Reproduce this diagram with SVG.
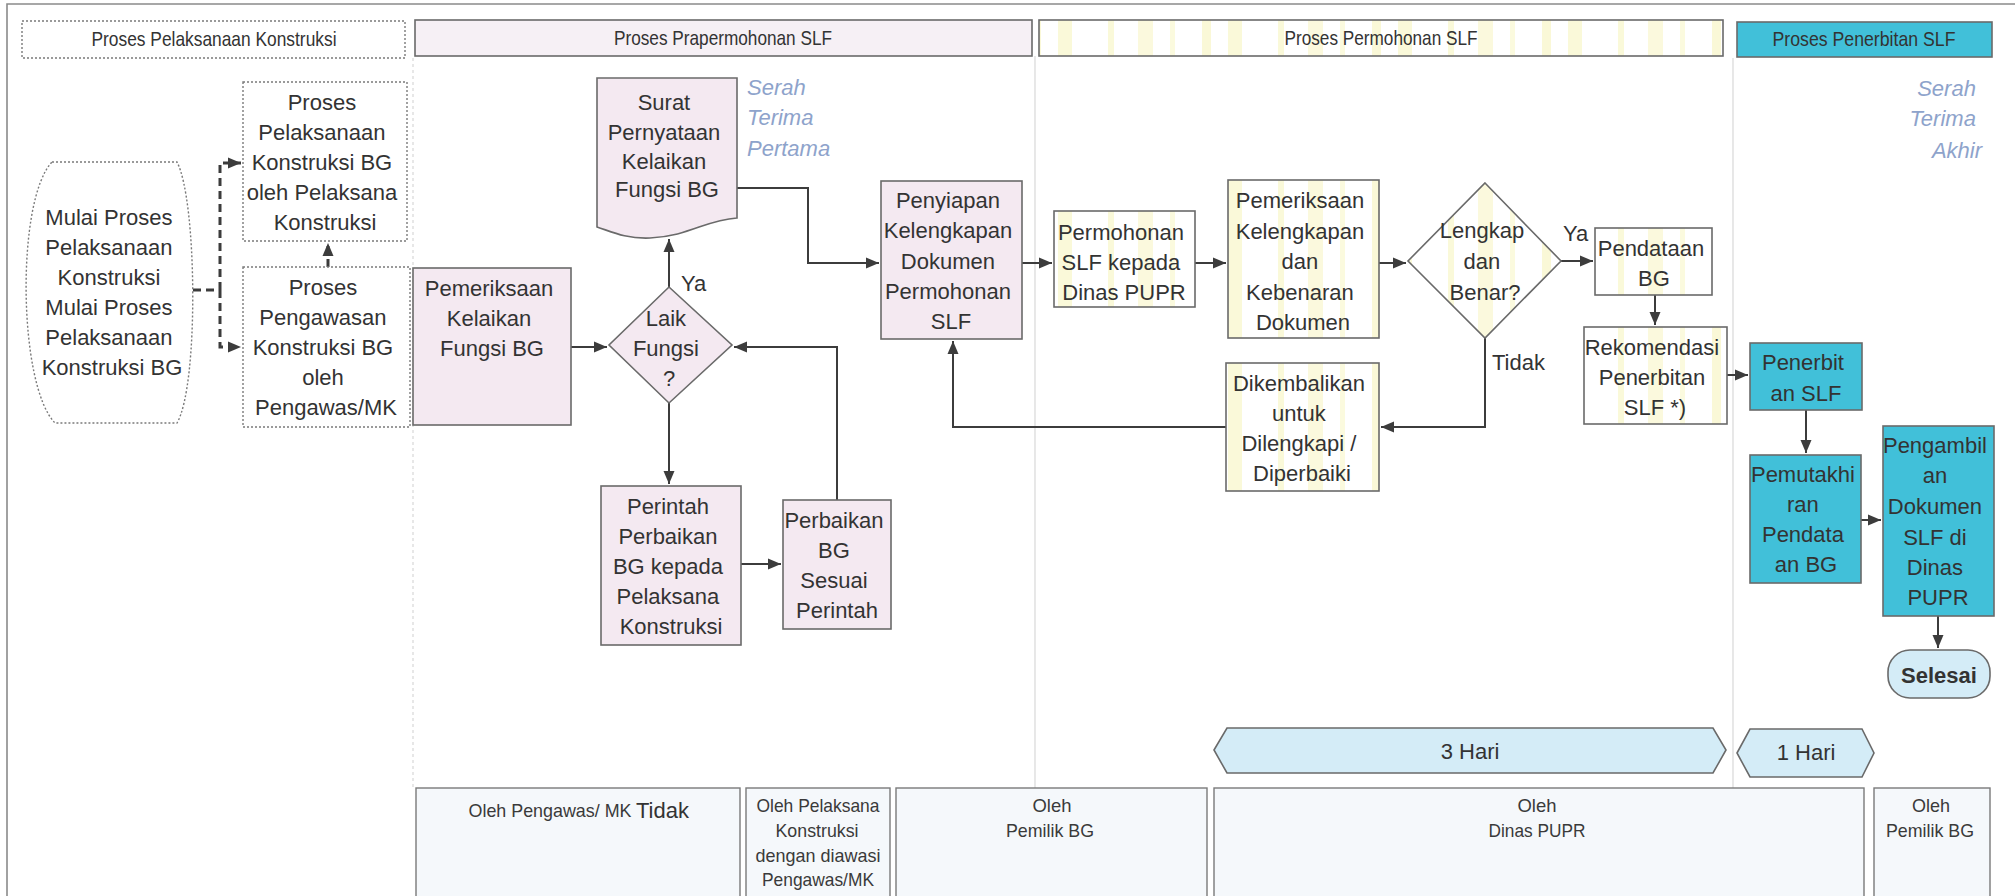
<svg xmlns="http://www.w3.org/2000/svg" width="2015" height="896" viewBox="0 0 2015 896">
  <defs>
    <!-- faint vertical yellow banding used for the application-lane shapes -->
    <pattern id="stripes" patternUnits="userSpaceOnUse" x="0" y="0" width="170" height="20">
      <rect x="0" y="0" width="170" height="20" fill="#ffffff"/>
      <rect x="12" y="0" width="9" height="20" fill="#f4f1a6" opacity="0.45"/>
      <rect x="38" y="0" width="14" height="20" fill="#f6f3b4" opacity="0.5"/>
      <rect x="88" y="0" width="6" height="20" fill="#f3efa0" opacity="0.4"/>
      <rect x="118" y="0" width="15" height="20" fill="#f6f3b4" opacity="0.45"/>
      <rect x="150" y="0" width="5" height="20" fill="#f3efa0" opacity="0.35"/>
    </pattern>
    <marker id="arr" markerUnits="userSpaceOnUse" markerWidth="14" markerHeight="14" viewBox="0 0 14 14" refX="13" refY="7" orient="auto">
      <path d="M0,1.5 L13,7 L0,12.5 Z" fill="#3c3c3c"/>
    </marker>
  </defs>
  <style>
    .t { font-family: "Liberation Sans", Arial, sans-serif; font-size: 22px; fill: #333333; text-anchor: middle; }
    .hd { font-family: "Liberation Sans", Arial, sans-serif; font-size: 21px; fill: #333; text-anchor: middle; }
    .sm { font-family: "Liberation Sans", Arial, sans-serif; font-size: 19px; fill: #3a3a3a; text-anchor: middle; }
    .note { font-family: "Liberation Sans", Arial, sans-serif; font-size: 22px; font-style: italic; fill: #8ea3cb; }
    .lbl { font-family: "Liberation Sans", Arial, sans-serif; font-size: 22px; fill: #333333; }
    .box { stroke: #6a6a6a; stroke-width: 1.6; }
    .dot { fill: #ffffff; stroke: #7a7a7a; stroke-width: 1.4; stroke-dasharray: 2 2; }
    .pink { fill: #f4e9f1; }
    .yel { fill: url(#stripes); }
    .cyan { fill: #41c0d9; }
    .lb { fill: #d4ecf7; }
    .foot { fill: #f5f8fb; stroke: #7a7a7a; stroke-width: 1.4; }
    .lane { stroke: #d8d8d8; stroke-width: 1.2; fill: none; }
    .c { fill: none; stroke: #3c3c3c; stroke-width: 2; }
    .cd { fill: none; stroke: #3c3c3c; stroke-width: 3; stroke-dasharray: 8 5; }
  </style>

  <rect x="0" y="0" width="2015" height="896" fill="#ffffff"/>
  <!-- outer frame -->
  <path d="M7,900 V4 H2015" fill="none" stroke="#8a8a8a" stroke-width="1.6"/>

  <!-- lane dividers -->
  <g id="lanes">
    <line class="lane" x1="413" y1="58" x2="413" y2="788" stroke-dasharray="3 3"/>
    <line class="lane" x1="1035" y1="56" x2="1035" y2="788"/>
    <line class="lane" x1="1733" y1="58" x2="1733" y2="788"/>
  </g>

  <!-- lane headers -->
  <g id="header-pelaksanaan">
    <rect class="dot" x="22" y="21" width="383" height="37"/>
    <text class="hd" x="214" y="46" textLength="245" lengthAdjust="spacingAndGlyphs">Proses Pelaksanaan Konstruksi</text>
  </g>
  <g id="header-prapermohonan">
    <rect class="box" x="415" y="20" width="617" height="36" fill="#f6f0f5"/>
    <text class="hd" x="723" y="45" textLength="218" lengthAdjust="spacingAndGlyphs">Proses Prapermohonan SLF</text>
  </g>
  <g id="header-permohonan">
    <rect class="box yel" x="1039" y="20" width="684" height="36"/>
    <text class="hd" x="1381" y="45" textLength="193" lengthAdjust="spacingAndGlyphs">Proses Permohonan SLF</text>
  </g>
  <g id="header-penerbitan">
    <rect class="box cyan" x="1737" y="22" width="255" height="35"/>
    <text class="hd" x="1864" y="46" textLength="183" lengthAdjust="spacingAndGlyphs">Proses Penerbitan SLF</text>
  </g>

  <!-- connectors -->
  <g id="connectors">
    <path class="cd" d="M193,290 H220"/>
    <path class="cd" d="M220,290 V163 H241" marker-end="url(#arr)"/>
    <path class="cd" d="M220,290 V347 H241" marker-end="url(#arr)"/>
    <path class="cd" d="M328,267 V243" marker-end="url(#arr)"/>
    <path class="c" d="M571,347 H607" marker-end="url(#arr)"/>
    <path class="c" d="M669,287 V239" marker-end="url(#arr)"/>
    <path class="c" d="M737,188 H808 V263 H879" marker-end="url(#arr)"/>
    <path class="c" d="M1022,263 H1052" marker-end="url(#arr)"/>
    <path class="c" d="M1195,263 H1226" marker-end="url(#arr)"/>
    <path class="c" d="M1379,263 H1406" marker-end="url(#arr)"/>
    <path class="c" d="M1561,261 H1593" marker-end="url(#arr)"/>
    <path class="c" d="M1655,295 V325" marker-end="url(#arr)"/>
    <path class="c" d="M1485,338 V427 H1381" marker-end="url(#arr)"/>
    <path class="c" d="M1226,427 H953 V341" marker-end="url(#arr)"/>
    <path class="c" d="M669,403 V484" marker-end="url(#arr)"/>
    <path class="c" d="M741,564 H781" marker-end="url(#arr)"/>
    <path class="c" d="M837,500 V347 H734" marker-end="url(#arr)"/>
    <path class="c" d="M1727,375 H1748" marker-end="url(#arr)"/>
    <path class="c" d="M1806,410 V453" marker-end="url(#arr)"/>
    <path class="c" d="M1861,520 H1881" marker-end="url(#arr)"/>
    <path class="c" d="M1938,616 V648" marker-end="url(#arr)"/>
    <text class="lbl" x="681" y="291">Ya</text>
    <text class="lbl" x="1563" y="241">Ya</text>
    <text class="lbl" x="1492" y="370">Tidak</text>
  </g>

  <!-- lane 1: construction -->
  <g id="mulai">
    <path class="dot" d="M52,162 H177 C197,200 199,385 177,423 H55 C18,385 16,200 52,162 Z"/>
    <text class="t">
      <tspan x="112" y="225">Mulai Proses</tspan>
      <tspan x="112" y="255">Pelaksanaan</tspan>
      <tspan x="112" y="285">Konstruksi</tspan>
      <tspan x="112" y="315">Mulai Proses</tspan>
      <tspan x="112" y="345">Pelaksanaan</tspan>
      <tspan x="112" y="375">Konstruksi BG</tspan>
    </text>
  </g>
  <g id="proses-pelaksanaan">
    <rect class="dot" x="243" y="82" width="164" height="159"/>
    <text class="t">
      <tspan x="325" y="110">Proses</tspan>
      <tspan x="325" y="140">Pelaksanaan</tspan>
      <tspan x="325" y="170">Konstruksi BG</tspan>
      <tspan x="325" y="200">oleh Pelaksana</tspan>
      <tspan x="325" y="230">Konstruksi</tspan>
    </text>
  </g>
  <g id="proses-pengawasan">
    <rect class="dot" x="243" y="267" width="167" height="160"/>
    <text class="t">
      <tspan x="326" y="295">Proses</tspan>
      <tspan x="326" y="325">Pengawasan</tspan>
      <tspan x="326" y="355">Konstruksi BG</tspan>
      <tspan x="326" y="385">oleh</tspan>
      <tspan x="326" y="415">Pengawas/MK</tspan>
    </text>
  </g>

  <!-- lane 2: pre-application -->
  <g id="pemeriksaan-kelaikan">
    <rect class="box pink" x="413" y="268" width="158" height="157"/>
    <text class="t">
      <tspan x="492" y="296">Pemeriksaan</tspan>
      <tspan x="492" y="326">Kelaikan</tspan>
      <tspan x="492" y="356">Fungsi BG</tspan>
    </text>
  </g>
  <g id="laik-fungsi">
    <path class="box pink" d="M669,287 L732,345 L669,403 L609,345 Z"/>
    <text class="t">
      <tspan x="669" y="326">Laik</tspan>
      <tspan x="669" y="356">Fungsi</tspan>
      <tspan x="669" y="386">?</tspan>
    </text>
  </g>
  <g id="surat-pernyataan">
    <path class="box pink" d="M597,78 H737 V218 C705,220 690,236 650,238 C625,239 610,231 597,227 Z"/>
    <text class="t">
      <tspan x="667" y="110">Surat</tspan>
      <tspan x="667" y="140">Pernyataan</tspan>
      <tspan x="667" y="169">Kelaikan</tspan>
      <tspan x="667" y="197">Fungsi BG</tspan>
    </text>
    <text class="note">
      <tspan x="747" y="95">Serah</tspan>
      <tspan x="747" y="125">Terima</tspan>
      <tspan x="747" y="156">Pertama</tspan>
    </text>
  </g>
  <g id="perintah-perbaikan">
    <rect class="box pink" x="601" y="486" width="140" height="159"/>
    <text class="t">
      <tspan x="671" y="514">Perintah</tspan>
      <tspan x="671" y="544">Perbaikan</tspan>
      <tspan x="671" y="574">BG kepada</tspan>
      <tspan x="671" y="604">Pelaksana</tspan>
      <tspan x="671" y="634">Konstruksi</tspan>
    </text>
  </g>
  <g id="perbaikan-bg">
    <rect class="box pink" x="783" y="500" width="108" height="129"/>
    <text class="t">
      <tspan x="837" y="528">Perbaikan</tspan>
      <tspan x="837" y="558">BG</tspan>
      <tspan x="837" y="588">Sesuai</tspan>
      <tspan x="837" y="618">Perintah</tspan>
    </text>
  </g>
  <g id="penyiapan-dokumen">
    <rect class="box pink" x="881" y="181" width="141" height="158"/>
    <text class="t">
      <tspan x="951" y="208">Penyiapan</tspan>
      <tspan x="951" y="238">Kelengkapan</tspan>
      <tspan x="951" y="269">Dokumen</tspan>
      <tspan x="951" y="299">Permohonan</tspan>
      <tspan x="951" y="329">SLF</tspan>
    </text>
  </g>

  <!-- lane 3: application -->
  <g id="permohonan-slf">
    <rect class="box yel" x="1054" y="211" width="141" height="96"/>
    <text class="t">
      <tspan x="1124" y="240">Permohonan</tspan>
      <tspan x="1124" y="270">SLF kepada</tspan>
      <tspan x="1124" y="300">Dinas PUPR</tspan>
    </text>
  </g>
  <g id="pemeriksaan-kelengkapan">
    <rect class="box yel" x="1228" y="180" width="151" height="158"/>
    <text class="t">
      <tspan x="1303" y="208">Pemeriksaan</tspan>
      <tspan x="1303" y="239">Kelengkapan</tspan>
      <tspan x="1303" y="269">dan</tspan>
      <tspan x="1303" y="300">Kebenaran</tspan>
      <tspan x="1303" y="330">Dokumen</tspan>
    </text>
  </g>
  <g id="lengkap-benar">
    <path class="box yel" d="M1485,183 L1561,261 L1485,338 L1408,261 Z"/>
    <text class="t">
      <tspan x="1485" y="238">Lengkap</tspan>
      <tspan x="1485" y="269">dan</tspan>
      <tspan x="1485" y="300">Benar?</tspan>
    </text>
  </g>
  <g id="pendataan-bg">
    <rect class="box yel" x="1595" y="228" width="117" height="67"/>
    <text class="t">
      <tspan x="1654" y="256">Pendataan</tspan>
      <tspan x="1654" y="286">BG</tspan>
    </text>
  </g>
  <g id="rekomendasi">
    <rect class="box yel" x="1584" y="327" width="143" height="97"/>
    <text class="t">
      <tspan x="1655" y="355">Rekomendasi</tspan>
      <tspan x="1655" y="385">Penerbitan</tspan>
      <tspan x="1655" y="415">SLF *)</tspan>
    </text>
  </g>
  <g id="dikembalikan">
    <rect class="box yel" x="1226" y="363" width="153" height="128"/>
    <text class="t">
      <tspan x="1302" y="391">Dikembalikan</tspan>
      <tspan x="1302" y="421">untuk</tspan>
      <tspan x="1302" y="451">Dilengkapi /</tspan>
      <tspan x="1302" y="481">Diperbaiki</tspan>
    </text>
  </g>

  <!-- lane 4: issuance -->
  <g id="serah-terima-akhir">
    <text class="note" text-anchor="end">
      <tspan x="1982" y="96">Serah</tspan>
      <tspan x="1982" y="126">Terima</tspan>
      <tspan x="1982" y="158">Akhir</tspan>
    </text>
  </g>
  <g id="penerbitan-slf">
    <rect class="box cyan" x="1750" y="343" width="112" height="67"/>
    <text class="t">
      <tspan x="1806" y="370">Penerbit</tspan>
      <tspan x="1806" y="401">an SLF</tspan>
    </text>
  </g>
  <g id="pemutakhiran">
    <rect class="box cyan" x="1750" y="455" width="111" height="128"/>
    <text class="t">
      <tspan x="1806" y="482">Pemutakhi</tspan>
      <tspan x="1806" y="512">ran</tspan>
      <tspan x="1806" y="542">Pendata</tspan>
      <tspan x="1806" y="572">an BG</tspan>
    </text>
  </g>
  <g id="pengambilan">
    <rect class="box cyan" x="1883" y="426" width="111" height="190"/>
    <text class="t">
      <tspan x="1938" y="453">Pengambil</tspan>
      <tspan x="1938" y="483">an</tspan>
      <tspan x="1938" y="514">Dokumen</tspan>
      <tspan x="1938" y="545">SLF di</tspan>
      <tspan x="1938" y="575">Dinas</tspan>
      <tspan x="1938" y="605">PUPR</tspan>
    </text>
  </g>
  <g id="selesai">
    <rect class="box lb" x="1888" y="650" width="102" height="48" rx="22" ry="22" stroke-width="2"/>
    <text class="t" x="1939" y="683" font-weight="bold" font-size="24">Selesai</text>
  </g>

  <!-- durations -->
  <g id="durasi-3-hari">
    <path class="box lb" d="M1214,750 L1227,728 H1713 L1726,750 L1713,773 H1227 Z" stroke-width="1.4"/>
    <text class="t" x="1470" y="759">3 Hari</text>
  </g>
  <g id="durasi-1-hari">
    <path class="box lb" d="M1737,753 L1750,729 H1862 L1874,753 L1862,777 H1750 Z" stroke-width="1.4"/>
    <text class="t" x="1806" y="760">1 Hari</text>
  </g>

  <!-- responsibility footer -->
  <g id="oleh-pengawas">
    <rect class="foot" x="416" y="788" width="324" height="112"/>
    <text class="sm" x="550" y="817" textLength="163" lengthAdjust="spacingAndGlyphs">Oleh Pengawas/ MK</text>
    <text class="lbl" x="636" y="818" font-size="21">Tidak</text>
  </g>
  <g id="oleh-pelaksana">
    <rect class="foot" x="746" y="788" width="144" height="112"/>
    <text class="sm" x="818" y="812" textLength="123" lengthAdjust="spacingAndGlyphs">Oleh Pelaksana</text>
    <text class="sm" x="817" y="837" textLength="83" lengthAdjust="spacingAndGlyphs">Konstruksi</text>
    <text class="sm" x="818" y="862" textLength="125" lengthAdjust="spacingAndGlyphs">dengan diawasi</text>
    <text class="sm" x="818" y="886" textLength="112" lengthAdjust="spacingAndGlyphs">Pengawas/MK</text>
  </g>
  <g id="oleh-pemilik-1">
    <rect class="foot" x="896" y="788" width="311" height="112"/>
    <text class="sm" x="1052" y="812" textLength="39" lengthAdjust="spacingAndGlyphs">Oleh</text>
    <text class="sm" x="1050" y="837" textLength="88" lengthAdjust="spacingAndGlyphs">Pemilik BG</text>
  </g>
  <g id="oleh-dinas">
    <rect class="foot" x="1214" y="788" width="650" height="112"/>
    <text class="sm" x="1537" y="812" textLength="39" lengthAdjust="spacingAndGlyphs">Oleh</text>
    <text class="sm" x="1537" y="837" textLength="97" lengthAdjust="spacingAndGlyphs">Dinas PUPR</text>
  </g>
  <g id="oleh-pemilik-2">
    <rect class="foot" x="1874" y="788" width="116" height="112"/>
    <text class="sm" x="1931" y="812" textLength="38" lengthAdjust="spacingAndGlyphs">Oleh</text>
    <text class="sm" x="1930" y="837" textLength="88" lengthAdjust="spacingAndGlyphs">Pemilik BG</text>
  </g>
</svg>
